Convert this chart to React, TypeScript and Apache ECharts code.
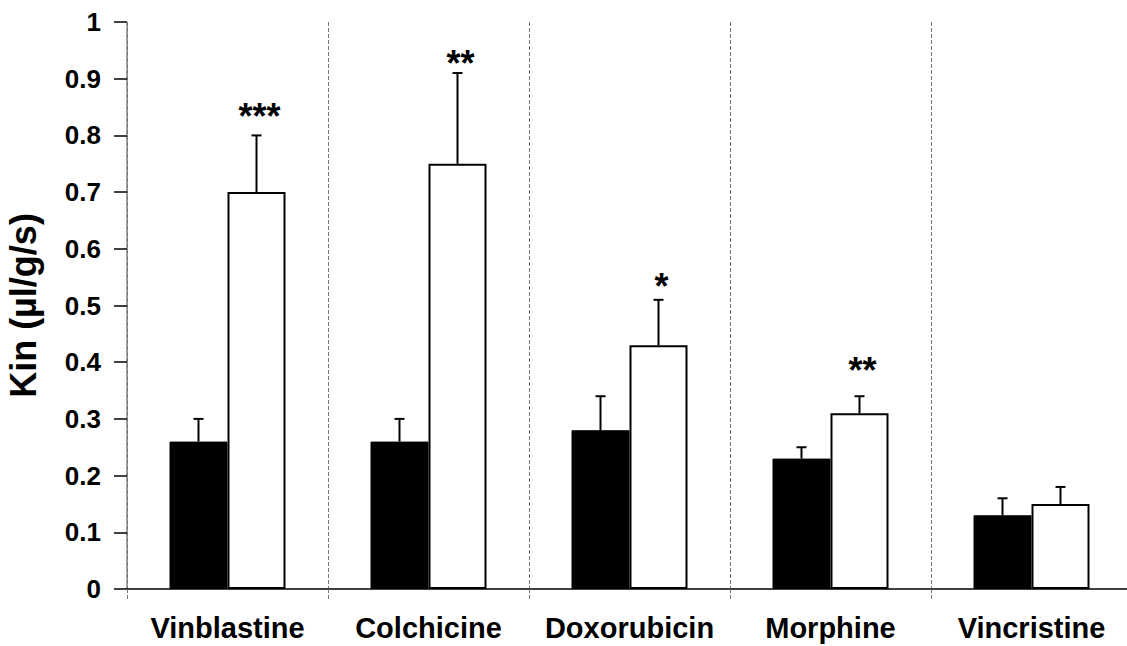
import React, { useEffect, useRef } from "react";
import * as echarts from "echarts";

const categories = ["Vinblastine", "Colchicine", "Doxorubicin", "Morphine", "Vincristine"];
const controlValues = [0.26, 0.26, 0.28, 0.23, 0.13];
const controlErrTop = [0.30, 0.30, 0.34, 0.25, 0.16];
const treatedValues = [0.70, 0.75, 0.43, 0.31, 0.15];
const treatedErrTop = [0.80, 0.91, 0.51, 0.34, 0.18];
const significance = ["***", "**", "*", "**", ""];
const significanceLevel = [0.845, 0.94, 0.545, 0.398, 0];
const yTicks = [0, 0.1, 0.2, 0.3, 0.4, 0.5, 0.6, 0.7, 0.8, 0.9, 1];

const BAR_W = 58;
const FONT = "'Liberation Sans', Arial, sans-serif";

export default function App() {
  const ref = useRef<HTMLDivElement>(null);
  useEffect(() => {
    if (!ref.current) return;
    const chart = echarts.init(ref.current, null, { renderer: "svg" });

    const errRender = (params: any, api: any) => {
      const idx = api.value(0);
      const sign = api.value(3);
      const base = api.coord([idx, api.value(1)]);
      const top = api.coord([idx, api.value(2)]);
      const cx = base[0] + (sign * BAR_W) / 2;
      const star = significance[idx] && sign > 0 ? significance[idx] : "";
      const children: any[] = [
        { type: "line", shape: { x1: cx, y1: base[1], x2: cx, y2: top[1] }, style: { stroke: "#000", lineWidth: 2 } },
        { type: "line", shape: { x1: cx - 5, y1: top[1], x2: cx + 5, y2: top[1] }, style: { stroke: "#000", lineWidth: 2 } },
      ];
      if (star) {
        const sp = api.coord([idx, significanceLevel[idx]]);
        children.push({
          type: "text",
          x: cx + 3,
          y: sp[1] + 7,
          style: {
            text: star,
            fill: "#000",
            font: `bold 36px ${FONT}`,
            align: "center",
            verticalAlign: "middle",
          },
        });
      }
      return { type: "group", children };
    };

    chart.setOption({
      animation: false,
      grid: { left: 127, top: 22, width: 1005, bottom: 57, outerBoundsMode: "none", containLabel: false },
      xAxis: {
        type: "category",
        data: categories,
        boundaryGap: true,
        axisLine: { show: true, lineStyle: { color: "#000", width: 1.5 } },
        axisTick: { show: true, interval: 0, length: 10, lineStyle: { color: "#777", type: "dashed", width: 1 } },
        splitLine: { show: true, interval: 0, lineStyle: { color: "#777", type: "dashed", width: 1 } },
        axisLabel: { interval: 0, color: "#000", fontFamily: FONT, fontWeight: "bold", fontSize: 29, margin: 24 },
      },
      yAxis: {
        type: "value",
        min: 0,
        max: 1,
        interval: 0.1,
        name: "Kin (µl/g/s)",
        nameLocation: "middle",
        nameGap: 86,
        nameTextStyle: { color: "#000", fontFamily: FONT, fontWeight: "bold", fontSize: 36 },
        axisLine: { show: true, lineStyle: { color: "#777", type: "dotted", width: 1.5 } },
        axisTick: { show: true, length: 13, lineStyle: { color: "#000", width: 1.5 } },
        splitLine: { show: false },
        axisLabel: {
          color: "#000",
          fontFamily: FONT,
          fontWeight: "bold",
          fontSize: 26,
          margin: 26,
          formatter: (v: number) => {
            const t = yTicks.find((x) => Math.abs(x - v) < 1e-6);
            const val = t === undefined ? v : t;
            return val === 0 || val === 1 ? String(val) : val.toFixed(1);
          },
        },
      },
      series: [
        {
          type: "bar",
          data: controlValues,
          barWidth: BAR_W,
          barGap: "0%",
          itemStyle: { color: "#000", borderColor: "#000", borderWidth: 1 },
        },
        {
          type: "bar",
          data: treatedValues,
          barWidth: BAR_W,
          barGap: "0%",
          itemStyle: { color: "#fff", borderColor: "#000", borderWidth: 2 },
        },
        {
          type: "custom",
          renderItem: errRender,
          data: controlValues.map((v, i) => [i, v, controlErrTop[i], -1]),
          z: 5,
        },
        {
          type: "custom",
          renderItem: errRender,
          data: treatedValues.map((v, i) => [i, v, treatedErrTop[i], 1]),
          z: 5,
        },
      ],
    });
    return () => chart.dispose();
  }, []);
  return (
    <div
      ref={ref}
      style={{ position: "fixed", left: 0, top: 0, width: 1127, height: 646, background: "#fff" }}
    />
  );
}
